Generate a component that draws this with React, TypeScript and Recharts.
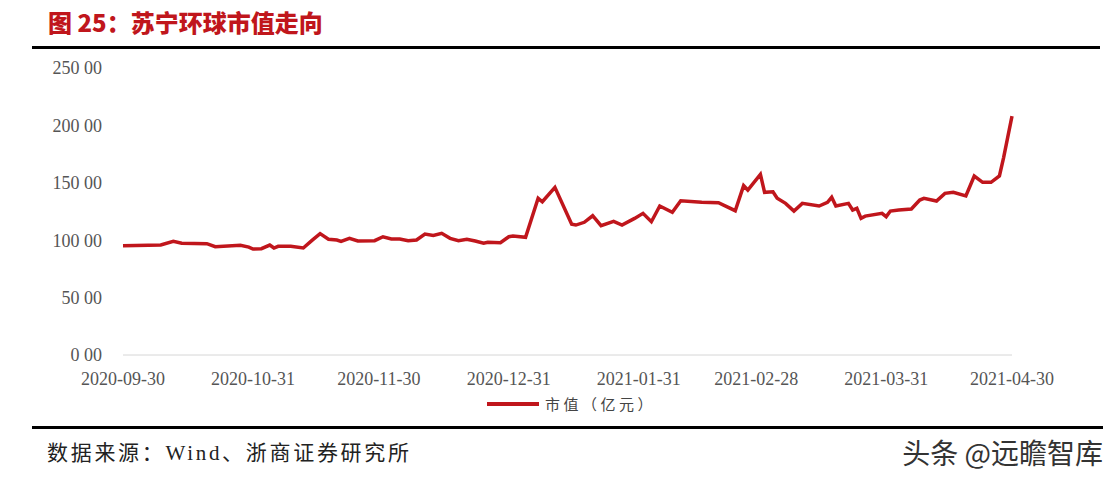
import { LineChart, Line, XAxis, YAxis } from 'recharts';

const dates = [
  '2020-09-30', '2020-10-09', '2020-10-12', '2020-10-14', '2020-10-20', '2020-10-22', '2020-10-28', '2020-10-30',
  '2020-10-31', '2020-11-02', '2020-11-04', '2020-11-05', '2020-11-06', '2020-11-09', '2020-11-12', '2020-11-14',
  '2020-11-16', '2020-11-18', '2020-11-20', '2020-11-21', '2020-11-23', '2020-11-25', '2020-11-29', '2020-12-01',
  '2020-12-03', '2020-12-05', '2020-12-07', '2020-12-09', '2020-12-11', '2020-12-13', '2020-12-15', '2020-12-17',
  '2020-12-19', '2020-12-21', '2020-12-23', '2020-12-25', '2020-12-26', '2020-12-29', '2020-12-31', '2021-01-01',
  '2021-01-04', '2021-01-07', '2021-01-08', '2021-01-11', '2021-01-15', '2021-01-16', '2021-01-18', '2021-01-20',
  '2021-01-22', '2021-01-25', '2021-01-27', '2021-01-30', '2021-02-01', '2021-02-03', '2021-02-05', '2021-02-08',
  '2021-02-10', '2021-02-15', '2021-02-19', '2021-02-23', '2021-02-25', '2021-02-26', '2021-03-01', '2021-03-02',
  '2021-03-04', '2021-03-05', '2021-03-07', '2021-03-09', '2021-03-11', '2021-03-15', '2021-03-17', '2021-03-18',
  '2021-03-19', '2021-03-22', '2021-03-23', '2021-03-24', '2021-03-25', '2021-03-26', '2021-03-30', '2021-03-31',
  '2021-04-01', '2021-04-03', '2021-04-06', '2021-04-08', '2021-04-09', '2021-04-12', '2021-04-14', '2021-04-16',
  '2021-04-19', '2021-04-21', '2021-04-23', '2021-04-25', '2021-04-27', '2021-04-28', '2021-04-29', '2021-04-30',
];

// 市值（亿元）
const marketCap = [
  95.2, 95.8, 99, 97.3, 97, 94.3, 95.5, 94,
  92.3, 92.6, 95.8, 93.2, 94.7, 94.7, 93.2, 99.6,
  105.7, 100.8, 100.2, 99, 101.6, 99.3, 99.6, 103,
  101, 101, 99.6, 100.2, 105.4, 104.2, 106, 101.6,
  99.6, 100.8, 99.3, 97.3, 98.2, 97.8, 103, 103.6,
  102.5, 136.5, 133.5, 146, 114, 113.2, 115.6, 121.3,
  112.6, 116.4, 113.2, 119, 123.4, 116.1, 129.8, 124.3,
  134.4, 133, 132.7, 125.7, 147.5, 143.7, 157.4, 141.7,
  142.2, 136.5, 132.1, 125.4, 132.1, 129.8, 133, 137.4,
  129.8, 132.1, 126.3, 127.8, 119, 121, 123.4, 120.5,
  125.4, 126.3, 127.2, 135, 136.5, 134.1, 140.8, 141.7,
  138.5, 155.9, 150.4, 150.4, 156, 172, 190, 208,
];

const yTicks = [0, 50, 100, 150, 200, 250];
const xTickDates = [
  '2020-09-30', '2020-10-31', '2020-11-30', '2020-12-31',
  '2021-01-31', '2021-02-28', '2021-03-31', '2021-04-30',
];

const DAY = 86400000;
const start = Date.parse(xTickDates[0]);
const toDay = (d: string) => Math.round((Date.parse(d) - start) / DAY);

const data = dates.map((d, i) => ({ t: toDay(d), value: marketCap[i] }));
const xTicks = xTickDates.map(toDay);

const RED = '#c0161c';
const tickFont = { fill: '#555', fontSize: 18, fontFamily: "'Liberation Serif', serif" };

export default function App() {
  return (
    <div style={{ position: 'absolute', left: 0, top: 0, width: 1112, height: 480, background: '#fff', overflow: 'hidden' }}>
      <div
        style={{
          position: 'absolute', left: 48, top: 7, color: RED, fontSize: 24, fontWeight: 900,
          fontFamily: "'Noto Sans CJK SC', sans-serif", lineHeight: '30px', whiteSpace: 'nowrap',
        }}
      >
        图 25：苏宁环球市值走向
      </div>
      <div style={{ position: 'absolute', left: 32, top: 46, width: 1068, height: 3, background: '#000' }} />

      <LineChart
        width={1112}
        height={480}
        data={data}
        margin={{ top: 68, right: 100, bottom: 95, left: 0 }}
        style={{ position: 'absolute', left: 0, top: 0 }}
      >
        <XAxis
          dataKey="t"
          type="number"
          domain={[0, 212]}
          ticks={xTicks}
          height={30}
          tick={tickFont}
          tickFormatter={(v) => xTickDates[xTicks.indexOf(v)] ?? ''}
          axisLine={{ stroke: '#d6d6d6' }}
          tickLine={false}
          tickSize={0}
          tickMargin={17}
          interval={0}
        />
        <YAxis
          type="number"
          domain={[0, 250]}
          ticks={yTicks}
          width={123}
          tick={tickFont}
          tickFormatter={(v) => `${v} 00`}
          axisLine={false}
          tickLine={false}
          tickSize={0}
          tickMargin={21}
          interval={0}
        />
        <Line
          type="linear"
          dataKey="value"
          stroke={RED}
          strokeWidth={3.5}
          dot={false}
          isAnimationActive={false}
        />
      </LineChart>

      <div style={{ position: 'absolute', left: 487, top: 402, width: 52, height: 4, background: RED }} />
      <div
        style={{
          position: 'absolute', left: 545, top: 394, fontSize: 15, letterSpacing: 3.5, color: '#444',
          fontFamily: "'Noto Sans CJK SC', sans-serif", lineHeight: '20px', whiteSpace: 'nowrap',
        }}
      >
        市值（亿元）
      </div>

      <div style={{ position: 'absolute', left: 32, top: 426, width: 1071, height: 3, background: '#000' }} />
      <div
        style={{
          position: 'absolute', left: 47, top: 439, fontSize: 21, letterSpacing: 2.7, color: '#222',
          fontFamily: "'Liberation Serif', 'Noto Sans CJK SC', serif", lineHeight: '28px', whiteSpace: 'nowrap',
        }}
      >
        数据来源：Wind、浙商证券研究所
      </div>
      <div
        style={{
          position: 'absolute', right: 9, top: 435, fontSize: 28, color: '#333',
          fontFamily: "'Noto Sans CJK SC', sans-serif", lineHeight: '34px', whiteSpace: 'nowrap',
        }}
      >
        头条 @远瞻智库
      </div>
    </div>
  );
}
